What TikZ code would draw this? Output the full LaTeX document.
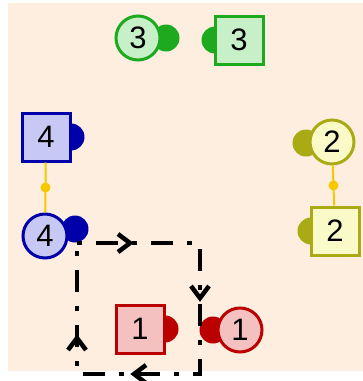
\documentclass[tikz,border=0pt]{standalone}
\usepackage{fontspec}
\setmainfont{Liberation Sans}
\usetikzlibrary{decorations.markings}

\definecolor{bgpeach}{HTML}{FDEEE0}
\definecolor{lineG}{HTML}{1EAA1E}
\definecolor{fillG}{HTML}{C8F0C8}
\definecolor{lineB}{HTML}{0000AA}
\definecolor{fillB}{HTML}{C8C8F5}
\definecolor{lineY}{HTML}{AAAA14}
\definecolor{fillY}{HTML}{FAFAC8}
\definecolor{lineR}{HTML}{BB0000}
\definecolor{fillR}{HTML}{F5C0C0}
\definecolor{linkgold}{HTML}{F5C800}

\begin{document}
\begin{tikzpicture}[x=1pt, y=-1pt,
  knob/.style={circle, draw=none, minimum size=27pt, inner sep=0pt},
  rnd/.style={circle, line width=3pt, minimum size=44pt, inner sep=0pt, font=\fontsize{31}{31}\selectfont},
  sq/.style={rectangle, line width=3pt, minimum size=48pt, inner sep=0pt, font=\fontsize{31}{31}\selectfont},
  link/.style={linkgold, line width=2pt},
  linkdot/.style={circle, fill=linkgold, minimum size=10pt, inner sep=0pt},
  flow/.style={line width=4.5pt, dash pattern=on 5pt off 14pt on 22pt off 14pt},
  chevron/.style={solid, line width=4.5pt, miter limit=20}
]
 \useasboundingbox (0,0) rectangle (363,381);
 \fill[bgpeach] (8,3) rectangle (363,371);

 %round ports
 \foreach \nm/\x/\y/\kx/\ky/\c/\txt in {c3/138/38/166/38/G/3, c4/45/236/75/229/B/4, c2/332/142/306/143/Y/2, c1/240/330/213/330/R/1} {
         \node[knob, fill=line\c] (\nm k) at (\kx,\ky) {};
         \node[rnd, draw=line\c, fill=fill\c] (\nm) at (\x,\y) {\txt};
 }

 %square ports
 \foreach \nm/\x/\y/\kx/\ky/\c/\txt in {s3/239/40/215/40/G/3, s4/46/137/71/137/B/4, s2/335/231/311/231/Y/2, s1/140/329/165/329/R/1} {
         \node[knob, fill=line\c] (\nm k) at (\kx,\ky) {};
         \node[sq, draw=line\c, fill=fill\c] (\nm) at (\x,\y) {\txt};
 }

 %links
 \draw[link] (s4) -- (c4) node[linkdot, midway] (d4) {};
 \draw[link] (c2) -- (s2) node[linkdot, midway] (d2) {};

 %loop
 \coordinate (tl) at (77,243);
 \coordinate (tr) at (200,243);
 \coordinate (br) at (200,374);
 \coordinate (bl) at (77,374);
 \draw[flow, postaction={decorate}, decoration={markings,
     mark=at position 55pt with {\draw[chevron] (-14pt,-9pt) -- (-2pt,0pt) -- (-14pt,9pt);},
     mark=at position 180pt with {\draw[chevron] (-14pt,-9pt) -- (-2pt,0pt) -- (-14pt,9pt);},
     mark=at position 322pt with {\draw[chevron] (-14pt,-9pt) -- (-2pt,0pt) -- (-14pt,9pt);},
     mark=at position 415pt with {\draw[chevron] (-14pt,-9pt) -- (-2pt,0pt) -- (-14pt,9pt);}}]
   (tl) -- (tr) -- (br) -- (bl) -- cycle;

\end{tikzpicture}
\end{document}
